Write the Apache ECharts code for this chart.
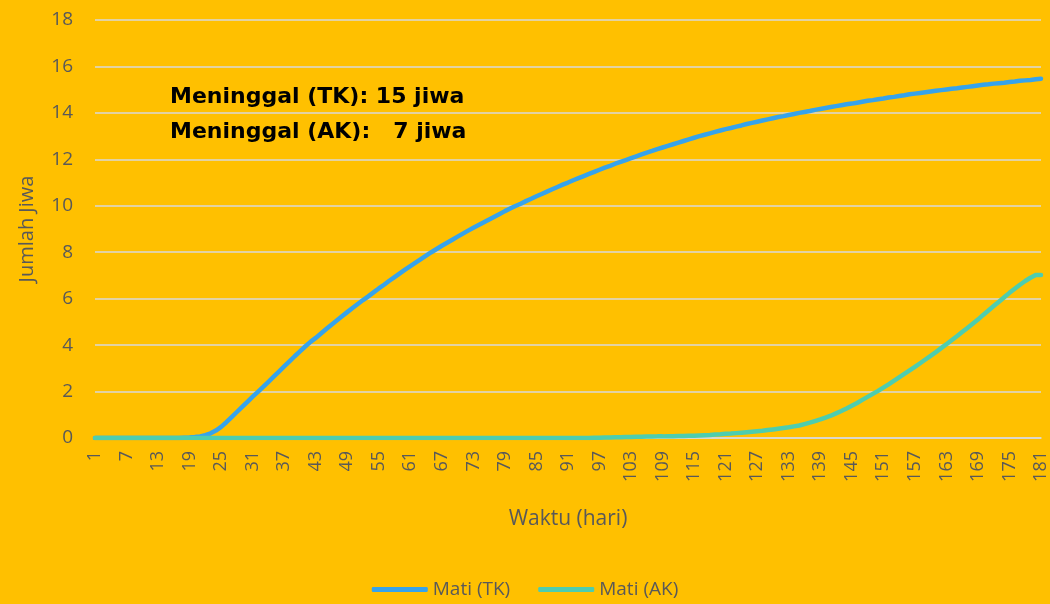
<!DOCTYPE html>
<html>
<head>
<meta charset="utf-8">
<script src="https://cdn.jsdelivr.net/npm/echarts@6/dist/echarts.min.js"></script>
<style>
html,body{margin:0;padding:0;background:#FFC000;}
#chart{width:1050px;height:604px;}
</style>
</head>
<body>
<div id="chart"></div>
<script>
// Days 1..181
const days = [];
for (let d = 1; d <= 181; d++) days.push(String(d));

// Mati (TK), days 1..181
const matiTK = [
  0,0,0,0,0,0,0,0,0,0,            // 1-10
  0,0,0,0,0,0,0,0.01,0.02,0.04,   // 11-20
  0.07,0.12,0.2,0.32,0.48,0.68,0.9,1.12,1.34,1.56, // 21-30
  1.78,1.99,2.2,2.42,2.64,2.86,3.08,3.3,3.52,3.73, // 31-40
  3.94,4.14,4.31,4.5,4.69,4.88,5.06,5.24,5.42,5.6, // 41-50
  5.77,5.94,6.1,6.27,6.44,6.6,6.77,6.93,7.09,7.25, // 51-60
  7.4,7.55,7.7,7.85,8.0,8.14,8.28,8.41,8.54,8.67,  // 61-70
  8.8,8.93,9.05,9.17,9.29,9.41,9.53,9.65,9.77,9.88, // 71-80
  9.99,10.09,10.2,10.3,10.41,10.51,10.61,10.71,10.81,10.91, // 81-90
  11.0,11.1,11.19,11.28,11.37,11.46,11.55,11.64,11.72,11.81, // 91-100
  11.89,11.97,12.05,12.13,12.21,12.29,12.36,12.44,12.51,12.58, // 101-110
  12.65,12.72,12.79,12.86,12.93,13.0,13.06,13.12,13.18,13.24, // 111-120
  13.3,13.35,13.41,13.46,13.52,13.57,13.62,13.67,13.72,13.77, // 121-130
  13.82,13.86,13.91,13.95,14.0,14.04,14.08,14.13,14.17,14.21, // 131-140
  14.25,14.29,14.33,14.37,14.4,14.44,14.48,14.52,14.55,14.59, // 141-150
  14.62,14.66,14.69,14.73,14.76,14.8,14.83,14.86,14.89,14.92, // 151-160
  14.95,14.98,15.01,15.04,15.06,15.09,15.12,15.15,15.18,15.21, // 161-170
  15.23,15.26,15.28,15.3,15.33,15.35,15.38,15.4,15.42,15.45, // 171-180
  15.47                                                      // 181
];

// Mati (AK), days 1..181
const matiAK = [
  0,0,0,0,0,0,0,0,0,0,            // 1-10
  0,0,0,0,0,0,0,0,0,0,            // 11-20
  0,0,0,0,0,0,0,0,0,0,            // 21-30
  0,0,0,0,0,0,0,0,0,0,            // 31-40
  0,0,0,0,0,0,0,0,0,0,            // 41-50
  0,0,0,0,0,0,0,0,0,0,            // 51-60
  0,0,0,0,0,0,0,0,0,0,            // 61-70
  0,0,0,0,0,0,0,0,0,0,            // 71-80
  0,0,0,0,0,0,0,0,0,0,            // 81-90
  0,0,0,0,0,0.01,0.01,0.02,0.02,0.03, // 91-100
  0.03,0.04,0.04,0.05,0.05,0.06,0.06,0.07,0.07,0.08, // 101-110
  0.08,0.09,0.09,0.1,0.1,0.11,0.12,0.13,0.15,0.16, // 111-120
  0.18,0.19,0.21,0.23,0.25,0.27,0.29,0.31,0.34,0.37, // 121-130
  0.4,0.43,0.46,0.5,0.54,0.6,0.66,0.73,0.8,0.88,   // 131-140
  0.96,1.06,1.16,1.27,1.39,1.51,1.64,1.77,1.9,2.03, // 141-150
  2.17,2.31,2.46,2.61,2.76,2.91,3.06,3.22,3.38,3.54, // 151-160
  3.7,3.87,4.04,4.21,4.38,4.56,4.74,4.92,5.1,5.3,  // 161-170
  5.49,5.68,5.87,6.06,6.25,6.43,6.6,6.76,6.9,7.02, // 171-180
  7.02                                              // 181
];

const yTicks = [0, 2, 4, 6, 8, 10, 12, 14, 16, 18];
const seriesNames = ['Mati (TK)', 'Mati (AK)'];
const noteLines = ['Meninggal (TK): 15 jiwa', 'Meninggal (AK):   7 jiwa'];

const FONT = '"Open Sans", Lato, sans-serif';
const NOTE_FONT = '"DejaVu Sans", "Open Sans", sans-serif';
const GRAY = '#595959';

const chart = echarts.init(document.getElementById('chart'), null, {renderer: 'canvas'});
chart.setOption({
  backgroundColor: '#FFC000',
  animation: false,
  textStyle: {fontFamily: FONT},
  grid: {left: 95, right: 9, top: 20, bottom: 166, containLabel: false},
  legend: {
    data: seriesNames,
    top: 575,
    left: 'center',
    icon: 'roundRect',
    itemWidth: 56,
    itemHeight: 5,
    itemGap: 28,
    textStyle: {color: GRAY, fontSize: 19, fontFamily: FONT}
  },
  xAxis: {
    type: 'category',
    data: days,
    boundaryGap: false,
    name: 'Waktu (hari)',
    nameLocation: 'middle',
    nameGap: 71,
    nameTextStyle: {color: GRAY, fontSize: 21, fontFamily: FONT},
    axisLine: {show: true, lineStyle: {color: '#D9D9D9', width: 1.5}},
    axisTick: {show: false},
    axisLabel: {
      interval: 5,
      rotate: 90,
      color: GRAY,
      fontSize: 18,
      margin: 13,
      fontFamily: FONT
    },
    splitLine: {show: false}
  },
  yAxis: {
    type: 'value',
    min: yTicks[0],
    max: yTicks[yTicks.length - 1],
    interval: 2,
    name: 'Jumlah Jiwa',
    nameLocation: 'middle',
    nameGap: 58,
    nameTextStyle: {color: GRAY, fontSize: 20, fontFamily: FONT},
    axisLine: {show: false},
    axisTick: {show: false},
    axisLabel: {color: GRAY, fontSize: 19, margin: 22, fontFamily: FONT},
    splitLine: {lineStyle: {color: '#D9D9D9', width: 1.5}}
  },
  graphic: [
    {
      type: 'text',
      left: 170,
      top: 86,
      style: {text: noteLines[0], fill: '#000', font: 'bold 22px ' + NOTE_FONT}
    },
    {
      type: 'text',
      left: 170,
      top: 121,
      style: {text: noteLines[1], fill: '#000', font: 'bold 22px ' + NOTE_FONT}
    }
  ],
  series: [
    {
      name: seriesNames[0],
      type: 'line',
      data: matiTK,
      showSymbol: false,
      symbol: 'none',
      color: '#36A3EB',
      lineStyle: {width: 4.5, color: '#36A3EB', cap: 'round', join: 'round'},
      z: 3
    },
    {
      name: seriesNames[1],
      type: 'line',
      data: matiAK,
      showSymbol: false,
      symbol: 'none',
      color: '#4ECDAE',
      lineStyle: {width: 4.5, color: '#4ECDAE', cap: 'round', join: 'round'},
      z: 4
    }
  ]
});
</script>
</body>
</html>
